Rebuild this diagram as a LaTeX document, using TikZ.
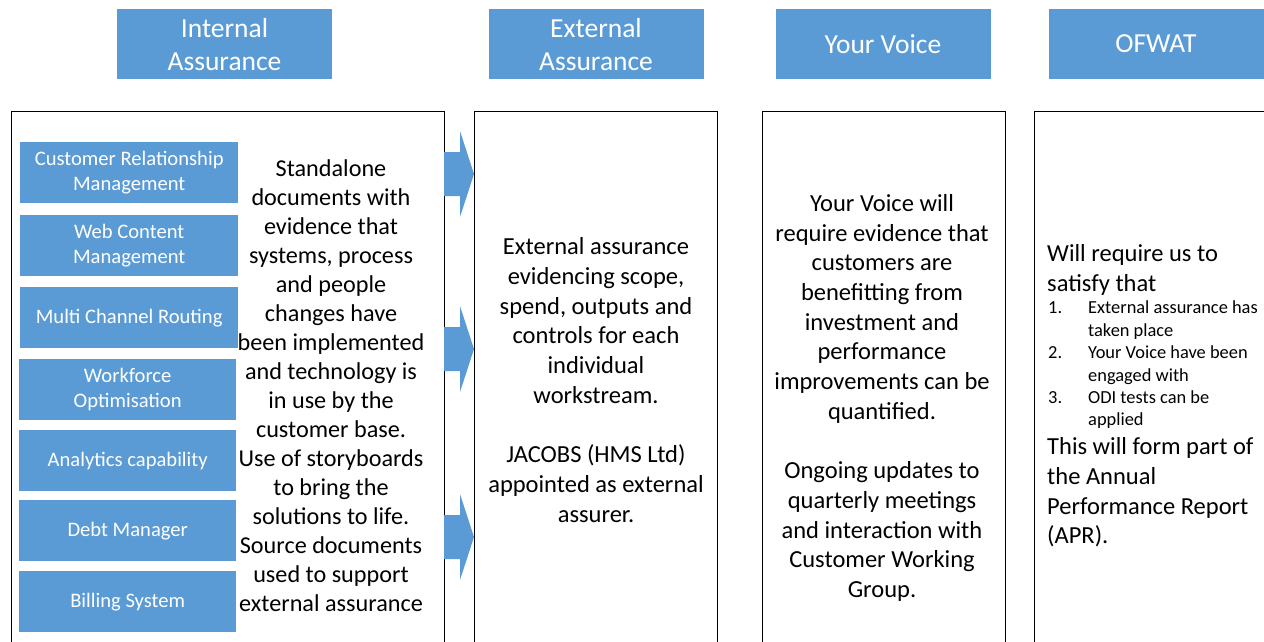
\documentclass[tikz,border=0pt]{standalone}
\usepackage{fontspec}
\setmainfont{Carlito}
\definecolor{obl}{HTML}{5B9BD5}
\begin{document}
\begin{tikzpicture}[x=1pt,y=-1pt,
  head/.style={fill=obl, text=white, minimum width=215pt, minimum height=70pt, align=center, inner sep=0pt, font=\fontsize{27.5}{33}\selectfont},
  panel/.style={draw=black, line width=1.3pt, anchor=north west, inner sep=0pt},
  sys/.style={fill=obl, text=white, anchor=north west, align=center, inner sep=0pt, minimum height=61pt, font=\fontsize{20.6}{25.5}\selectfont},
  body/.style={align=center, inner sep=0pt, font=\fontsize{24.5}{29.7}\selectfont},
  small/.style={align=left, inner sep=0pt, anchor=west, font=\fontsize{18.4}{22.4}\selectfont},
  barrow/.pic={\fill[obl] (0,-22) -- (16,-22) -- (16,-43) -- (30,0) -- (16,43) -- (16,22) -- (0,22) -- cycle;}
]
\useasboundingbox (0,0) rectangle (1264,642);
\clip (0,0) rectangle (1264,642);
\fill[white] (0,0) rectangle (1264,642);
% headers
\node[head] (h1) at (224.5,44.5) {Internal\\Assurance};
\node[head] (h2) at (596,44.5) {External\\Assurance};
\node[head] (h3) at (883,44) {Your Voice};
\node[head] (h4) at (1156,44) {OFWAT};
% panels
\node[panel, minimum width=433pt, minimum height=560pt] (p1) at (11,111) {};
\node[panel, minimum width=243pt, minimum height=560pt] (p2) at (474,111) {};
\node[panel, minimum width=243pt, minimum height=560pt] (p3) at (762,111) {};
\node[panel, minimum width=260pt, minimum height=560pt] (p4) at (1034,111) {};
% system boxes
\node[sys, minimum width=218pt] (s1) at (20,142) {Customer Relationship\\Management};
\node[sys, minimum width=218pt] (s2) at (20,215) {Web Content\\Management};
\node[sys, minimum width=218pt] (s3) at (20,287) {Multi Channel Routing};
\node[sys, minimum width=217pt] (s4) at (19,359) {Workforce\\Optimisation};
\node[sys, minimum width=217pt] (s5) at (19,430) {Analytics capability};
\node[sys, minimum width=217pt] (s6) at (19,500) {Debt Manager};
\node[sys, minimum width=217pt] (s7) at (19,571) {Billing System};
% panel texts
\node[body, font=\fontsize{24.2}{29}\selectfont] (t1) at (331,386) {Standalone\\documents with\\evidence that\\systems, process\\and people\\changes have\\been implemented\\and technology is\\in use by the\\customer base.\\Use of storyboards\\to bring the\\solutions to life.\\Source documents\\used to support\\external assurance};
\node[body] (t2) at (596,380) {External assurance\\evidencing scope,\\spend, outputs and\\controls for each\\individual\\workstream.\\[29.7pt]JACOBS (HMS Ltd)\\appointed as external\\assurer.};
\node[body] (t3) at (882,398) {Your Voice will\\require evidence that\\customers are\\benefitting from\\investment and\\performance\\improvements can be\\quantified.\\[29.7pt]Ongoing updates to\\quarterly meetings\\and interaction with\\Customer Working\\Group.};
\node[body, align=left, anchor=west] (t4a) at (1047,270) {Will require us to\\satisfy that};
\node[small] (t4b) at (1048,365) {\makebox[40pt][l]{1.}External assurance has\\\hspace*{40pt}taken place\\\makebox[40pt][l]{2.}Your Voice have been\\\hspace*{40pt}engaged with\\\makebox[40pt][l]{3.}ODI tests can be\\\hspace*{40pt}applied};
\node[body, align=left, anchor=west] (t4c) at (1047,492.5) {This will form part of\\the Annual\\Performance Report\\(APR).};
% block arrows
\pic at (444,174) {barrow};
\pic at (444,349) {barrow};
\pic at (444,537) {barrow};
\end{tikzpicture}
\end{document}
